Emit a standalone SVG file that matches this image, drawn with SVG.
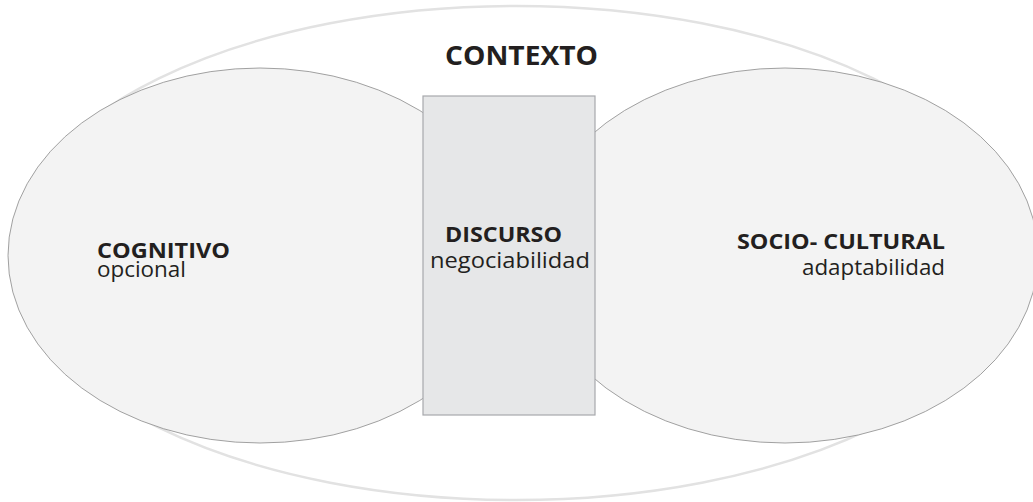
<svg xmlns="http://www.w3.org/2000/svg" width="1033" height="502" viewBox="0 0 1033 502">
  <style>
    .outer { fill: none; stroke: #e2e2e2; stroke-width: 2.5; }
    .lobe { fill: #f3f3f3; stroke: #8a8a8a; stroke-width: 0.8; }
    .core { fill: #e6e7e8; stroke: #a7a9ac; stroke-width: 1.2; }
    .title { font-family: "Open Sans", "Liberation Sans", sans-serif; font-weight: bold; fill: #231f20; }
    .sub { font-family: "Open Sans", "Liberation Sans", sans-serif; font-weight: normal; fill: #231f20; }
  </style>
  <rect width="1033" height="502" fill="#ffffff"/>

  <!-- surrounding context -->
  <g id="contexto">
    <ellipse class="outer" cx="516" cy="253" rx="505" ry="247"/>
    <text class="title" x="521.5" y="65" font-size="27" text-anchor="middle" textLength="153" lengthAdjust="spacingAndGlyphs">CONTEXTO</text>
  </g>

  <!-- cognitive lobe -->
  <g id="cognitivo">
    <ellipse class="lobe" cx="260" cy="255.5" rx="252" ry="187.5"/>
    <text class="title" x="97" y="258" font-size="22" textLength="133" lengthAdjust="spacingAndGlyphs">COGNITIVO</text>
    <text class="sub" x="97" y="277" font-size="22" textLength="89" lengthAdjust="spacingAndGlyphs">opcional</text>
  </g>

  <!-- socio-cultural lobe -->
  <g id="socio-cultural">
    <ellipse class="lobe" cx="785" cy="255.5" rx="253" ry="187.5"/>
    <text class="title" x="945" y="249" font-size="22" text-anchor="end" textLength="208" lengthAdjust="spacingAndGlyphs">SOCIO- CULTURAL</text>
    <text class="sub" x="945" y="275" font-size="22" text-anchor="end" textLength="143" lengthAdjust="spacingAndGlyphs">adaptabilidad</text>
  </g>

  <!-- discourse bridge -->
  <g id="discurso">
    <rect class="core" x="423" y="96" width="172" height="319"/>
    <text class="title" x="503.5" y="242" font-size="22" text-anchor="middle" textLength="117" lengthAdjust="spacingAndGlyphs">DISCURSO</text>
    <text class="sub" x="510" y="268" font-size="22" text-anchor="middle" textLength="160" lengthAdjust="spacingAndGlyphs">negociabilidad</text>
  </g>

  <g id="connectors"></g>
</svg>
